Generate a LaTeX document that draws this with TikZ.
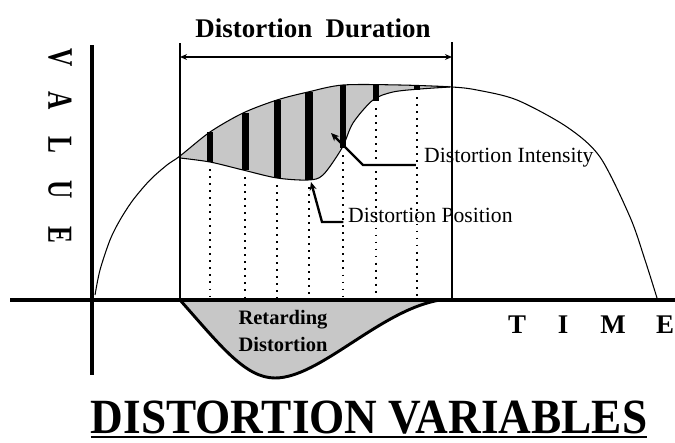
\documentclass[tikz,border=0pt]{standalone}
\usepackage{fontspec}
\setmainfont{Liberation Serif}
\usetikzlibrary{arrows.meta}

\begin{document}
\begin{tikzpicture}[x=0.03cm,y=-0.03cm,
    axis/.style={line width=4.2pt},
    curve/.style={line width=0.9pt},
    probe/.style={line width=1.6pt, dash pattern=on 1.6pt off 4.4pt},
    leader/.style={line width=2pt, line join=miter, -{Stealth[length=7pt,width=6pt]}},
    shade/.style={fill=black!22},
    bigletter/.style={font=\bfseries\fontsize{23}{23}\selectfont},
    label/.style={font=\fontsize{18.5}{18.5}\selectfont, inner sep=0pt, anchor=base west}]
    \useasboundingbox (0,0) rectangle (675,442);

    % shaded region between ideal and distorted curve
    \fill[shade] plot[smooth] coordinates {(180,156) (210,132) (243,113) (277,100) (308,92) (343,85) (400,85) (450,86)}
        -- plot[smooth] coordinates {(450,87) (420,89) (393,92) (373,100) (353,123) (342,148) (323,175) (308,180) (277,178) (243,170) (210,162) (180,158)} -- cycle;

    % retarding distortion below the time axis
    \filldraw[shade, line width=2.5pt] (180,300) .. controls (220,345) and (245,378) .. (275,378)
        .. controls (320,378) and (380,310) .. (440,300) -- cycle;
    \node[align=center, font=\bfseries\fontsize{17.5}{23}\selectfont] (retard) at (283,331) {Retarding\\Distortion};

    % ideal curve
    \draw[curve] plot[smooth] coordinates {(95,295) (100,270) (110,240) (120,220) (133,200) (150,180) (167,165) (180,156)
        (210,132) (243,113) (277,100) (308,92) (343,85) (400,85) (452,87) (477,90) (517,100) (567,127) (600,157)
        (630,217) (645,260) (657,298)};
    % distorted curve
    \draw[curve] plot[smooth] coordinates {(180,158) (210,162) (243,170) (277,178) (308,180) (323,175) (342,148)
        (353,123) (373,100) (393,92) (420,89) (450,87)};

    % intensity bars and their positions
    \foreach \xx/\ya/\yb/\ww in {210/132/162/6, 245/113/170/7, 277/100/178/7, 309/92/180/8, 343/85/148/6, 376/85/101/6, 417/86/90/6}
    {
        \fill ({\xx-\ww/2},\ya) rectangle ({\xx+\ww/2},\yb);
        \draw[probe] (\xx,\yb+7) -- (\xx,298);
    }

    % duration
    \draw[curve] (180,43) -- (180,157);
    \draw[line width=2.2pt] (180,157) -- (180,300);
    \draw[curve] (452,42) -- (452,300);
    \coordinate (durL) at (180,57);
    \coordinate (durR) at (452,57);
    \draw[line width=1.6pt, {Stealth[length=6pt,width=5pt]}-{Stealth[length=6pt,width=5pt]}] (durL) -- (durR);
    \node[font=\bfseries\fontsize{23}{23}\selectfont] (duration) at (313,28) {Distortion\ \ Duration};

    % axes
    \draw[axis] (10,300) -- (675,300);
    \draw[axis] (92,45) -- (92,375);
    \foreach \ch/\yy in {V/58,A/101,L/145,U/190,E/235}
        \node[font=\bfseries\fontsize{30}{30}\selectfont, rotate=-90] (value\ch) at (60,\yy) {\scalebox{0.72}[1]{\ch}};
    \foreach \ch/\xx in {T/517,I/563,M/613,E/665}
        \node[bigletter] (time\ch) at (\xx,325) {\ch};

    % labels with leaders
    \node[label] (intensity) at (424,162) {Distortion Intensity};
    \coordinate (intensityBend) at (363,165);
    \coordinate (intensityTip) at (331,133);
    \draw[leader] ([xshift=-7pt,yshift=-2.5pt]intensity.base west) -- (intensityBend) -- (intensityTip);

    \node[label] (position) at (348,222) {Distortion Position};
    \coordinate (positionBend) at (322,222);
    \coordinate (positionTip) at (311,182);
    \draw[leader] ([xshift=-4pt]position.base west) -- (positionBend) -- (positionTip);

    % title
    \node[font=\bfseries\fontsize{42}{42}\selectfont, xscale=0.92, anchor=base, inner sep=0pt] (title) at (369,433) {DISTORTION VARIABLES};
    \draw[line width=1.8pt] ([yshift=-3.5pt]title.base west) -- ([yshift=-3.5pt]title.base east);
\end{tikzpicture}
\end{document}
